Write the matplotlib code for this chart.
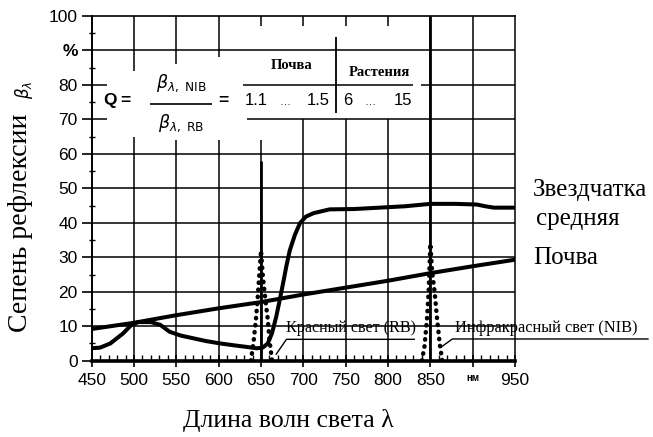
import matplotlib
matplotlib.use("Agg")
import matplotlib.pyplot as plt
import numpy as np

# ---------------- data ----------------
soil_nm = [450, 500, 550, 600, 650, 700, 750, 800, 850, 900, 950]
soil_refl = [9.2, 11.0, 13.2, 15.2, 17.0, 19.2, 21.2, 23.2, 25.4, 27.4, 29.3]

plant_nm = [450, 460, 472, 487, 497, 505, 520, 531, 542, 555, 570, 585, 602, 620,
            633, 645, 652, 658, 663, 668, 672, 676, 680, 684, 690, 696, 703, 712,
            731, 760, 790, 820, 850, 880, 905, 915, 925, 950]
plant_refl = [3.6, 3.8, 5.0, 7.9, 10.4, 11.2, 11.2, 10.4, 8.4, 7.3, 6.5, 5.7, 5.0, 4.4,
              4.0, 3.6, 3.8, 5.0, 8.0, 12.8, 17.5, 22.4, 27.5, 32.0, 36.5, 39.9, 41.8, 42.8,
              43.9, 44.0, 44.4, 44.8, 45.5, 45.5, 45.3, 44.8, 44.4, 44.4]

rb_nm = [638, 641, 644, 646, 648, 650, 652, 655, 658, 660, 663]
rb_val = [0, 5, 12, 18, 25, 32, 25, 18, 12, 6, 0]

nib_nm = [840, 843, 846, 848, 850, 852, 855, 858, 861, 864]
nib_val = [0, 4, 12, 20, 34, 26, 20, 12, 5, 0]

spike_nm = [650, 850]
spike_top = [58, 100]

x_ticks = [450, 500, 550, 600, 650, 700, 750, 800, 850, 900, 950]
x_ticklabels = ["450", "500", "550", "600", "650", "700", "750", "800", "850", "нм", "950"]
y_ticks = [0, 10, 20, 30, 40, 50, 60, 70, 80, 90, 100]
y_ticklabels = ["0", "10", "20", "30", "40", "50", "60", "70", "80", "%", "100"]

SERIF = ["Liberation Serif", "DejaVu Serif"]
SANS = ["Liberation Sans", "DejaVu Sans"]
plt.rcParams["mathtext.fontset"] = "dejavusans"

fig = plt.figure(figsize=(6.53, 4.37), dpi=100)
ax = fig.add_axes([0.1404, 0.1746, 0.6483, 0.7888])
ax.set_xlim(450, 950)
ax.set_ylim(0, 100)

# ---------------- grid (with gaps around formula) ----------------
glw = 1.1
vgrid = {
    500: [(0, 65), (84, 100)],
    550: [(0, 64), (86, 100)],
    600: [(0, 64), (88, 100)],
    650: [(0, 64), (97, 100)],
    700: [(0, 70), (97, 100)],
    750: [(0, 70), (97, 100)],
    800: [(0, 70), (97, 100)],
    850: [(0, 100)],
    900: [(0, 100)],
}
for xv, segs in vgrid.items():
    for y0, y1 in segs:
        ax.vlines(xv, y0, y1, colors="black", lw=glw, zorder=1)
hgrid = {
    10: [(450, 950)], 20: [(450, 950)], 30: [(450, 950)], 40: [(450, 950)],
    50: [(450, 950)], 60: [(450, 950)], 90: [(450, 950)],
    80: [(450, 468), (629, 829), (839, 950)],
    70: [(450, 468), (633, 950)],
}
for yv, segs in hgrid.items():
    for x0, x1 in segs:
        ax.hlines(yv, x0, x1, colors="black", lw=glw, zorder=1)
# table separator
ax.vlines(739, 72, 94, colors="black", lw=1.3, zorder=1)

# ---------------- curves ----------------
ax.plot(soil_nm, soil_refl, color="black", lw=2.9, solid_capstyle="round", zorder=3)
ax.plot(plant_nm, plant_refl, color="black", lw=2.9, solid_capstyle="round", zorder=3)
ax.plot(rb_nm, rb_val, color="black", lw=3.2, linestyle=(0, (0.1, 1.5)),
        dash_capstyle="round", zorder=4)
ax.plot(nib_nm, nib_val, color="black", lw=3.2, linestyle=(0, (0.1, 1.5)),
        dash_capstyle="round", zorder=4)
ax.vlines(spike_nm, 0, spike_top, colors="black", lw=2.0, zorder=4)

# ---------------- leaders & labels ----------------
ax.plot([668, 680, 831], [1.9, 6.2, 6.2], color="black", lw=1.0, zorder=4)
ax.text(680, 7.3, "Красный свет (RB)", family=SERIF, fontsize=11.6, ha="left", va="bottom",
        zorder=5)
ax.plot([863, 876, 1107], [4.0, 6.3, 6.3], color="black", lw=1.0, zorder=4, clip_on=False)
ax.text(879, 7.3, "Инфракрасный свет (NIB)", family=SERIF, fontsize=11.8, ha="left",
        va="bottom", zorder=5, clip_on=False)

ax.text(971, 49.5, "Звездчатка", family=SERIF, fontsize=18, ha="left", va="center",
        clip_on=False)
ax.text(975, 41.2, "средняя", family=SERIF, fontsize=18, ha="left", va="center",
        clip_on=False)
ax.text(971, 29.8, "Почва", family=SERIF, fontsize=18, ha="left", va="center",
        clip_on=False)

# ---------------- formula ----------------
ax.text(472, 75.5, "Q", family=SANS, fontsize=12.5, fontweight="bold", ha="center", va="center")
ax.text(490, 75.5, "=", family=SANS, fontsize=12.5, fontweight="bold", ha="center", va="center")
ax.text(556, 80.5, r"$\beta_{\lambda,\ \mathrm{NIB}}$", fontsize=12.5, ha="center", va="center")
ax.hlines(74.6, 519, 592, colors="black", lw=1.2)
ax.text(556, 69.0, r"$\beta_{\lambda,\ \mathrm{RB}}$", fontsize=12.5, ha="center", va="center")
ax.text(605, 75.5, "=", family=SANS, fontsize=12.5, fontweight="bold", ha="center", va="center")

ax.text(686, 85.5, "Почва", family=SERIF, fontsize=10.5, fontweight="bold", ha="center",
        va="center")
ax.text(790, 83.7, "Растения", family=SERIF, fontsize=10.5, fontweight="bold", ha="center",
        va="center")
ax.text(644, 75.5, "1.1", family=SANS, fontsize=12, ha="center", va="center")
ax.text(678, 75.0, "…", family=SANS, fontsize=8, ha="center", va="center")
ax.text(718, 75.5, "1.5", family=SANS, fontsize=12, ha="center", va="center")
ax.text(753, 75.5, "6", family=SANS, fontsize=12, ha="center", va="center")
ax.text(779, 75.0, "…", family=SANS, fontsize=8, ha="center", va="center")
ax.text(818, 75.5, "15", family=SANS, fontsize=12, ha="center", va="center")

# ---------------- axes styling ----------------
ax.set_xticks(x_ticks)
ax.set_xticklabels(x_ticklabels)
ax.set_yticks(y_ticks)
ax.set_yticklabels(y_ticklabels)
ax.set_xticks(np.arange(450, 951, 10), minor=True)
ax.set_yticks(np.arange(0, 101, 5), minor=True)
ax.tick_params(axis="x", which="major", direction="inout", length=9, width=1.2, pad=4)
ax.tick_params(axis="x", which="minor", direction="in", length=4, width=1.0)
ax.tick_params(axis="y", which="major", direction="out", length=7, width=1.2, pad=3)
ax.tick_params(axis="y", which="minor", direction="inout", length=5, width=1.0)
for lab in ax.get_xticklabels() + ax.get_yticklabels():
    lab.set_family(SANS)
    lab.set_fontsize(12.5)
ax.get_xticklabels()[9].set_fontsize(7)
ax.get_xticklabels()[9].set_fontweight("bold")
ax.get_yticklabels()[9].set_fontweight("bold")

ax.spines["bottom"].set_linewidth(2.6)
ax.spines["left"].set_linewidth(1.4)
ax.spines["top"].set_linewidth(1.2)
ax.spines["right"].set_linewidth(1.1)

fig.text(0.441, 0.037, "Длина волн света λ", family=SERIF, fontsize=18.5, ha="center",
         va="center")
fig.text(0.031, 0.49, "Сепень рефлексии", family=SERIF, fontsize=20, rotation=90,
         ha="center", va="center")
fig.text(0.036, 0.795, r"$\beta_\lambda$", fontsize=12, rotation=90, ha="center", va="center")

fig.savefig("out.png", dpi=100)
